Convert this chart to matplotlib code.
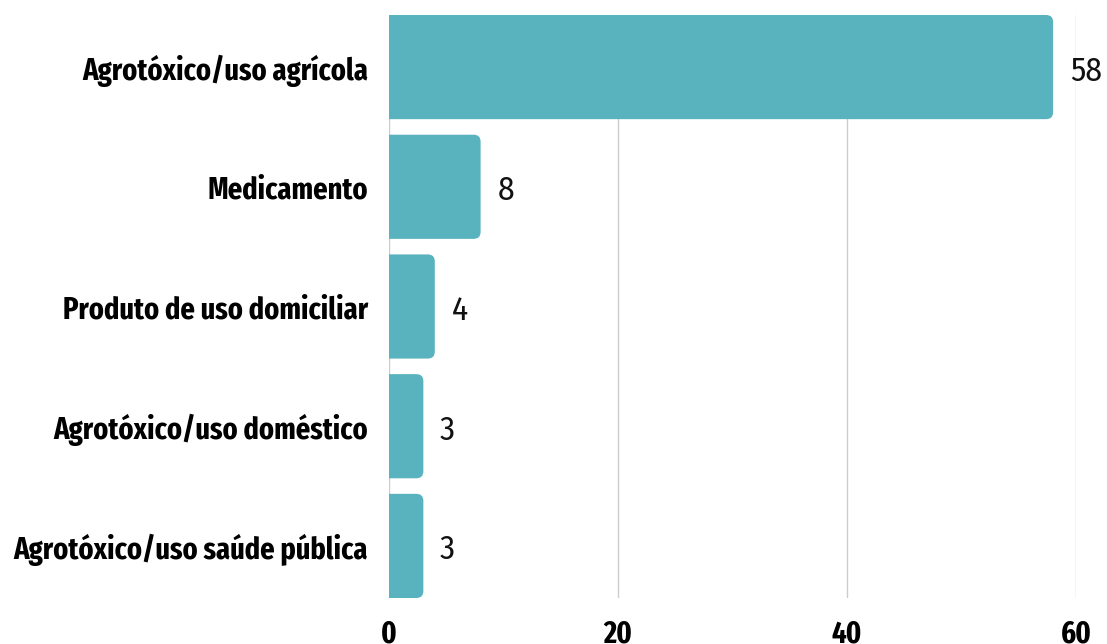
import matplotlib
matplotlib.use("Agg")
import matplotlib.pyplot as plt
from matplotlib.patches import FancyBboxPatch

categories = ["Agrotóxico/uso agrícola", "Medicamento", "Produto de uso domiciliar",
              "Agrotóxico/uso doméstico", "Agrotóxico/uso saúde pública"]
values = [58, 8, 4, 3, 3]
xticks = [0, 20, 40, 60]

BAR_COLOR = "#58B3BE"
FONT = ["Fira Sans Extra Condensed", "Fira Sans Condensed", "Barlow Condensed", "DejaVu Sans"]
NUMFONT = ["Fira Sans Condensed", "Barlow Condensed", "DejaVu Sans"]

fig = plt.figure(figsize=(11.07, 6.44), dpi=100)
ax = fig.add_axes([389/1107, 1-598/644, (1076-389)/1107, (598-15)/644])

h = 0.87
ax.set_xlim(0, 60)
ax.set_ylim(len(categories) - 1 + h/2, -h/2)

ax_w_px = 1076 - 389
ax_h_px = 598 - 15
xu_per_px = 60 / ax_w_px
yu_per_px = (len(categories) - 1 + h) / ax_h_px
r_px = 7
aspect = yu_per_px / xu_per_px

for i, v in enumerate(values):
    start = -2.0
    p = FancyBboxPatch((start, i - h/2), v - start, h,
                       boxstyle=f"round,pad=0,rounding_size={r_px*xu_per_px}",
                       mutation_aspect=aspect, facecolor=BAR_COLOR, edgecolor="none",
                       zorder=3, clip_on=True)
    ax.add_patch(p)
    ax.annotate(str(v), xy=(v, i), xytext=(12, -3), textcoords="offset points",
                ha="left", va="center", fontsize=24, family=NUMFONT, color="#111111",
                annotation_clip=False)

ax.set_yticks(range(len(categories)))
ax.set_yticklabels(categories, family=FONT, fontweight="bold", fontsize=22.3)
ax.set_xticks(xticks)
ax.set_xticklabels([str(t) for t in xticks], family=FONT, fontweight="bold", fontsize=22.3)
ax.tick_params(axis="y", length=0, pad=15)
ax.tick_params(axis="x", length=0, pad=15)

for x in xticks:
    ax.axvline(x, color="#cccccc", lw=1, zorder=1)
for s in ax.spines.values():
    s.set_visible(False)

fig.savefig("out.png", dpi=100)
